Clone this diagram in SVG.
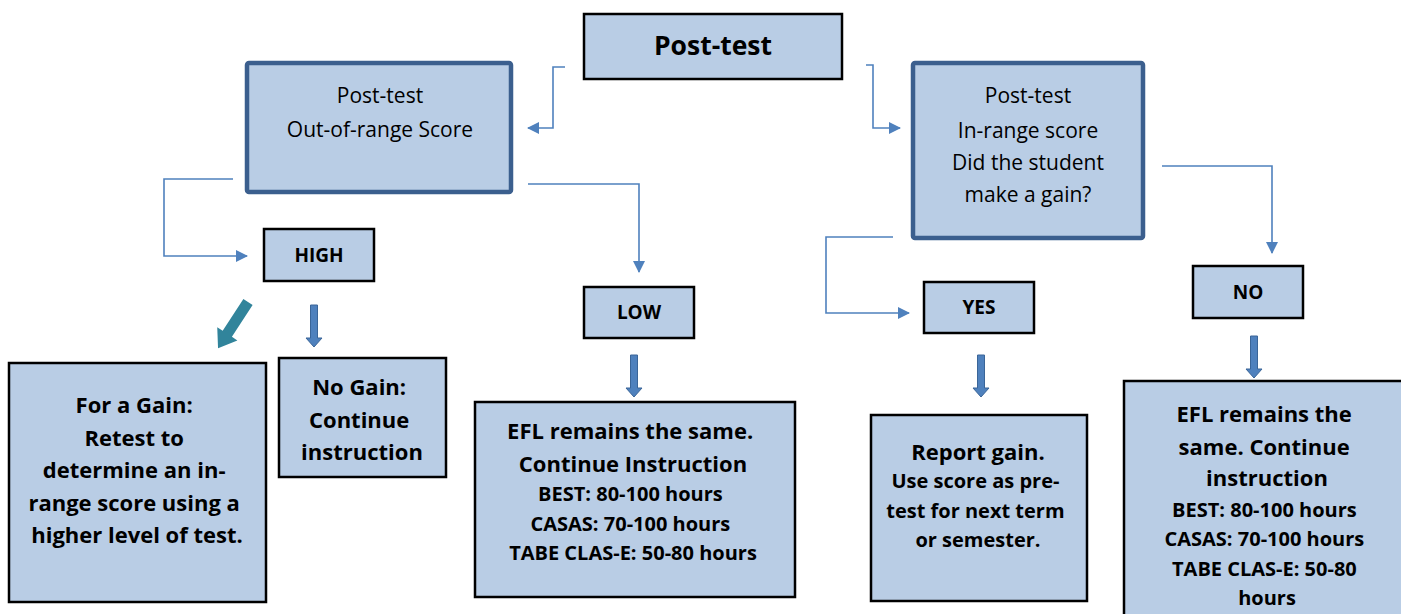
<svg xmlns="http://www.w3.org/2000/svg" width="1401" height="614" viewBox="0 0 1401 614">
  <style>
    .bx { fill: #B9CDE5; stroke: #000; stroke-width: 2.5; }
    .bb { fill: #B9CDE5; stroke: #3B5F8E; stroke-width: 4.5; }
    .t { font-family: "Open Sans", Lato, sans-serif; fill: #000; text-anchor: middle; }
    .b { font-weight: bold; }
    .n { font-weight: normal; font-size: 21px; }
    .lbl { font-weight: bold; font-size: 19px; }
    .big { font-weight: bold; font-size: 22px; }
    .sm { font-weight: bold; font-size: 20px; }
    .con { fill: none; stroke: #4F81BD; stroke-width: 1.6; }
    .blk { fill: #4F81BD; stroke: #3A6598; stroke-width: 1; }
  </style>
  <defs>
    <marker id="ah" markerWidth="12" markerHeight="12" refX="11" refY="6" orient="auto" markerUnits="userSpaceOnUse">
      <path d="M0,0 L12,6 L0,12 Z" fill="#4F81BD"/>
    </marker>
    <path id="darrow" d="M-3.5,0 L3.5,0 L3.5,33 L8,33 L0,42 L-8,33 L-3.5,33 Z"/>
  </defs>

  <g id="connectors">
    <polyline class="con" points="565,67 553,67 553,128 528,128" marker-end="url(#ah)"/>
    <polyline class="con" points="866,65 873,65 873,128 900,128" marker-end="url(#ah)"/>
    <polyline class="con" points="233,179 164,179 164,256 247,256" marker-end="url(#ah)"/>
    <polyline class="con" points="528,184 639,184 639,272" marker-end="url(#ah)"/>
    <polyline class="con" points="893,237 826,237 826,313 909,313" marker-end="url(#ah)"/>
    <polyline class="con" points="1162,166 1272,166 1272,253" marker-end="url(#ah)"/>
    <use href="#darrow" class="blk" transform="translate(314,305)"/>
    <use href="#darrow" class="blk" transform="translate(634,355)"/>
    <use href="#darrow" class="blk" transform="translate(981,355)"/>
    <use href="#darrow" class="blk" transform="translate(1254,336)"/>
    <path d="M-5.5,0 L5.5,0 L5.5,38 L12,38 L0,55 L-12,38 L-5.5,38 Z" fill="#31849B" transform="translate(248,302) rotate(33)"/>
  </g>

  <g id="post-test">
    <rect class="bx" x="584" y="14" width="258" height="65"/>
    <text class="t b" x="713" y="55" font-size="26.5">Post-test</text>
  </g>

  <g id="out-of-range">
    <rect class="bb" x="247" y="63" width="264" height="129" rx="2"/>
    <text class="t n" x="380" y="103">Post-test</text>
    <text class="t n" x="380" y="137">Out-of-range Score</text>
  </g>

  <g id="in-range">
    <rect class="bb" x="913" y="63" width="230" height="175" rx="2"/>
    <text class="t n" x="1028" y="103">Post-test</text>
    <text class="t n" x="1028" y="138">In-range score</text>
    <text class="t n" x="1028" y="170">Did the student</text>
    <text class="t n" x="1028" y="202">make a gain?</text>
  </g>

  <g id="high">
    <rect class="bx" x="264" y="229" width="110" height="52"/>
    <text class="t lbl" x="319" y="262">HIGH</text>
  </g>

  <g id="low">
    <rect class="bx" x="584" y="287" width="110" height="51"/>
    <text class="t lbl" x="639" y="319">LOW</text>
  </g>

  <g id="yes">
    <rect class="bx" x="924" y="282" width="110" height="51"/>
    <text class="t lbl" x="979" y="314">YES</text>
  </g>

  <g id="no">
    <rect class="bx" x="1193" y="266" width="110" height="52"/>
    <text class="t lbl" x="1248" y="299">NO</text>
  </g>

  <g id="for-a-gain">
    <rect class="bx" x="9" y="363" width="257" height="239"/>
    <text class="t big" font-size="21.5">
      <tspan x="137" y="413">For a Gain:</tspan>
      <tspan x="137" y="446">Retest to</tspan>
      <tspan x="137" y="478">determine an in-</tspan>
      <tspan x="137" y="511">range score using a</tspan>
      <tspan x="137" y="543">higher level of test.</tspan>
    </text>
  </g>

  <g id="no-gain">
    <rect class="bx" x="279" y="358" width="167" height="119"/>
    <text class="t big" font-size="21">
      <tspan x="362" y="395">No Gain:</tspan>
      <tspan x="362" y="428">Continue</tspan>
      <tspan x="362" y="460">instruction</tspan>
    </text>
  </g>

  <g id="efl-low">
    <rect class="bx" x="475" y="402" width="320" height="195"/>
    <text class="t big">
      <tspan x="633" y="439">EFL remains the same.</tspan>
      <tspan x="633" y="472">Continue Instruction</tspan>
    </text>
    <text class="t sm">
      <tspan x="633" y="501">BEST: 80-100 hours</tspan>
      <tspan x="633" y="531">CASAS: 70-100 hours</tspan>
      <tspan x="633" y="560">TABE CLAS-E: 50-80 hours</tspan>
    </text>
  </g>

  <g id="report-gain">
    <rect class="bx" x="871" y="415" width="216" height="186"/>
    <text class="t big" x="978" y="460">Report gain.</text>
    <text class="t sm">
      <tspan x="978" y="488">Use score as pre-</tspan>
      <tspan x="978" y="518">test for next term</tspan>
      <tspan x="978" y="547">or semester.</tspan>
    </text>
  </g>

  <g id="efl-no">
    <rect class="bx" x="1124" y="381" width="290" height="250"/>
    <text class="t big">
      <tspan x="1267" y="422">EFL remains the</tspan>
      <tspan x="1267" y="455">same. Continue</tspan>
      <tspan x="1267" y="486">instruction</tspan>
    </text>
    <text class="t sm">
      <tspan x="1267" y="517">BEST: 80-100 hours</tspan>
      <tspan x="1267" y="546">CASAS: 70-100 hours</tspan>
      <tspan x="1267" y="576">TABE CLAS-E: 50-80</tspan>
      <tspan x="1267" y="605">hours</tspan>
    </text>
  </g>
</svg>
